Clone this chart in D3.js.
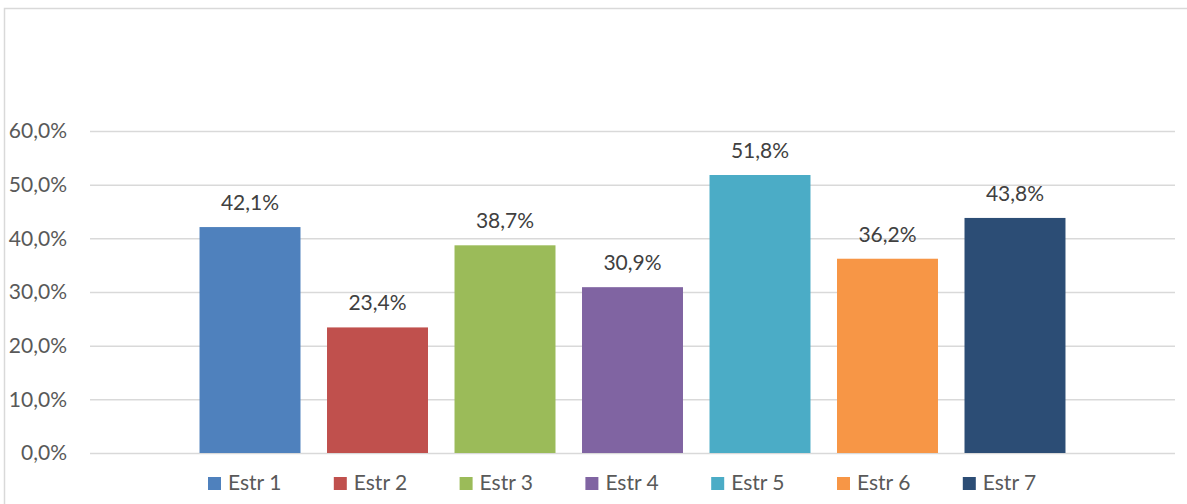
<!DOCTYPE html>
<html>
<head>
<meta charset="utf-8">
<script src="https://cdn.jsdelivr.net/npm/d3@7/dist/d3.min.js"></script>
<style>
  html,body{margin:0;padding:0;background:#fff;}
  svg{display:block;font-family:Lato,"Open Sans",sans-serif;}
</style>
</head>
<body>
<svg id="chart" width="1187" height="504"></svg>
<script>
/* ===== Data ===== */
const categories = ['Estr 1','Estr 2','Estr 3','Estr 4','Estr 5','Estr 6','Estr 7'];
const values = [0.421, 0.234, 0.387, 0.309, 0.518, 0.362, 0.438];
const colors = ['#4f81bd','#c0504d','#9bbb59','#8064a2','#4bacc6','#f79646','#2c4d75'];
const yTicks = [0, 0.1, 0.2, 0.3, 0.4, 0.5, 0.6];

/* ===== Setup ===== */
const locale = d3.formatLocale({decimal:',', thousands:'.', grouping:[3], currency:['','']});
const fmtTick = locale.format('.1%');
const fmtLabel = locale.format('.1%');

const svg = d3.select('#chart');
const plot = {l:90, r:1175, t:131, b:453};

// chart frame (cut off right/bottom like the source)
svg.append('rect').attr('x',4.5).attr('y',8.5).attr('width',1300).attr('height',700)
  .attr('fill','#fff').attr('stroke','#d9d9d9').attr('stroke-width',1.5);

const x = d3.scaleBand().domain(categories).range([plot.l, plot.r]).paddingInner(0.208).paddingOuter(0.859);
const y = d3.scaleLinear().domain([0, 0.6]).range([plot.b, plot.t]);

// gridlines + y labels
const yA = d3.axisLeft(y).tickValues(yTicks).tickFormat(fmtTick).tickSize(-(plot.r-plot.l)).tickPadding(23);
const gy = svg.append('g').attr('transform',`translate(${plot.l},0)`).call(yA);
gy.select('.domain').remove();
gy.selectAll('.tick line').attr('stroke','#d9d9d9').attr('stroke-width',1.5);
gy.selectAll('.tick text').attr('fill','#595959').attr('font-size',21).attr('font-family','Lato,"Open Sans",sans-serif');

// bars
svg.append('g').selectAll('rect').data(values).enter().append('rect')
  .attr('x',(d,i)=>x(categories[i])).attr('y',d=>y(d))
  .attr('width',x.bandwidth()).attr('height',d=>plot.b-y(d))
  .attr('fill',(d,i)=>colors[i]);

// data labels
svg.append('g').selectAll('text').data(values).enter().append('text')
  .attr('x',(d,i)=>x(categories[i])+x.bandwidth()/2).attr('y',d=>y(d)-17)
  .attr('text-anchor','middle').attr('font-size',21).attr('fill','#404040')
  .text(d=>fmtLabel(d));

// legend
const lx = d3.scalePoint().domain(categories).range([208, 208+6*125.8]);
const leg = svg.append('g').selectAll('g').data(categories).enter().append('g')
  .attr('transform',d=>`translate(${lx(d)},477)`);
leg.append('rect').attr('width',13).attr('height',13).attr('fill',(d,i)=>colors[i]);
leg.append('text').attr('x',20).attr('y',13).attr('font-size',21).attr('fill','#595959').text(d=>d);
</script>
</body>
</html>
